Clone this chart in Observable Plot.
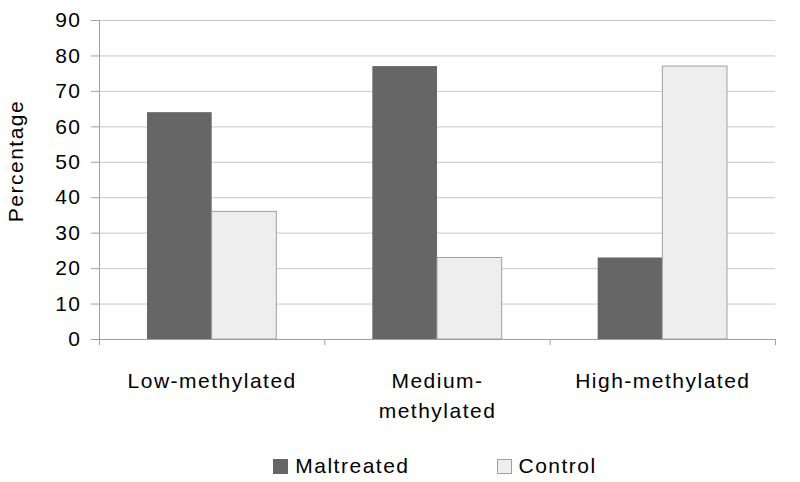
<!DOCTYPE html>
<html><head><meta charset="utf-8">
<script src="https://cdn.jsdelivr.net/npm/d3@7"></script>
<script src="https://cdn.jsdelivr.net/npm/@observablehq/plot@0.6"></script>
<style>
body{margin:0;background:#fff;font-family:"Liberation Sans",Arial,sans-serif;}
#wrap{position:relative;width:800px;height:482px;overflow:hidden;}
#wrap svg{letter-spacing:1.5px;}
.legend{position:absolute;left:97px;width:676px;top:452px;height:28px;display:flex;justify-content:center;align-items:center;gap:87px;font-size:21px;letter-spacing:1.5px;color:#000;}
.item{display:flex;align-items:center;gap:7px;}
.sw{width:15px;height:15px;box-sizing:border-box;}
</style></head><body><div id="wrap"></div>
<script>
const categories = ["Low-methylated", "Medium-methylated", "High-methylated"];
const categoryLabels = ["Low-methylated", "Medium-\nmethylated", "High-methylated"];
const series = ["Maltreated", "Control"];
const maltreated = [64, 77, 23];
const control = [36, 23, 77];
const yTicks = [0, 10, 20, 30, 40, 50, 60, 70, 80, 90];
const colors = ["#666666", "#eeeeee"];

const values = {Maltreated: maltreated, Control: control};
const slot = {Maltreated: [0.213, 0.5], Control: [0.5, 0.787]};
const data = categories.flatMap((c, i) => series.map(s => ({category: c, index: i, series: s, value: values[s][i]})));

const chart = Plot.plot({
  width: 800, height: 440,
  marginTop: 20, marginLeft: 99, marginRight: 25, marginBottom: 101,
  style: {fontFamily: "Liberation Sans, Arial, sans-serif", fontSize: "21px", color: "#000", background: "#fff", overflow: "visible"},
  x: {domain: [0, categories.length], axis: null},
  y: {domain: [0, 90], axis: null},
  color: {domain: series, range: colors},
  marks: [
    Plot.ruleY(yTicks.filter(t => t > 0), {stroke: "#c8c8c8", strokeWidth: 1}),
    Plot.rectY(data.filter(d => d.series === "Maltreated"), {x1: d => d.index + slot[d.series][0], x2: d => d.index + slot[d.series][1], y1: 0, y2: "value", fill: "series"}),
    Plot.rectY(data.filter(d => d.series === "Control"), {x1: d => d.index + slot[d.series][0], x2: d => d.index + slot[d.series][1], y1: 0, y2: "value", fill: "series", stroke: "#a0a0a0", strokeWidth: 1}),
    Plot.ruleY([0], {stroke: "#a0a0a0"}),
    Plot.ruleX([0], {stroke: "#a0a0a0"}),
    Plot.axisY({ticks: yTicks, tickSize: 8, tickPadding: 10, stroke: "#a0a0a0", label: null, fill: "#000"}),
    Plot.axisX({ticks: d3.range(categories.length + 1), tickSize: 6, tickFormat: () => "", stroke: "#a0a0a0", label: null}),
    Plot.text(categories, {x: (d, i) => i + 0.5, frameAnchor: "bottom", text: (d, i) => categoryLabels[i], lineAnchor: "top", dy: 27, lineHeight: 1.43, fill: "#000"}),
    Plot.text(["Percentage"], {frameAnchor: "left", textAnchor: "middle", rotate: -90, dx: -83, dy: -19, fontSize: 21, fill: "#000"})
  ]
});
const wrap = document.getElementById("wrap");
wrap.appendChild(chart);
const legend = document.createElement("div");
legend.className = "legend";
series.forEach((s, i) => {
  const item = document.createElement("div");
  item.className = "item";
  const sw = document.createElement("span");
  sw.className = "sw";
  sw.style.background = colors[i];
  if (i === 1) sw.style.border = "1px solid #a0a0a0";
  const t = document.createElement("span");
  t.textContent = s;
  item.appendChild(sw); item.appendChild(t);
  legend.appendChild(item);
});
wrap.appendChild(legend);
</script>
</body></html>
